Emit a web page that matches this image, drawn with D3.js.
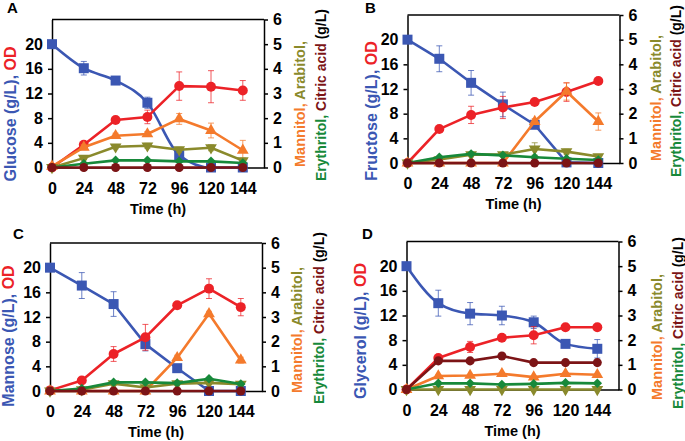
<!DOCTYPE html>
<html><head><meta charset="utf-8">
<script src="https://cdn.jsdelivr.net/npm/d3@7"></script>
<style>
body{margin:0;background:#fff}
text{font-family:"Liberation Sans",Arial,sans-serif;font-weight:bold}
</style>
</head><body>
<svg id="c" width="685" height="441"></svg>
<script>
// ---------- data ----------
const time = [0, 24, 48, 72, 96, 120, 144];
const panelLetters = ["A", "B", "C", "D"];
const substrateNames = ["Glucose", "Fructose", "Mannose", "Glycerol"];
const leftTicks = [0, 4, 8, 12, 16, 20];
const rightTicks = [0, 1, 2, 3, 4, 5, 6];
const xTicks = [0, 24, 48, 72, 96, 120, 144];

// substrate (g/L), left axis
const glucose    = [20, 16.1, 14.1, 10.5, 2.0, 0, 0];
const glucoseErr = [0, 1.1, 0.5, 0.9, 0.6, 0, 0];
const fructose    = [20, 16.9, 13.0, 9.5, 6.2, 0.1, 0];
const fructoseErr = [0, 2.1, 2.0, 2.0, 0.5, 0, 0];
const mannose    = [20, 17.1, 14.1, 7.6, 3.7, 0, 0];
const mannoseErr = [0, 2.1, 2.0, 1.1, 0.3, 0, 0];
const glycerol    = [20, 14.0, 12.3, 12.0, 10.9, 7.4, 6.6];
const glycerolErr = [0, 2.1, 1.8, 1.5, 1.0, 0.3, 1.5];

// OD, left axis
const odA = [0, 3.7, 7.7, 8.2, 13.2, 13.1, 12.5];
const odAErr = [0, 0.4, 0.3, 1.1, 2.3, 2.6, 1.6];
const odB = [0, 5.5, 7.8, 9.0, 9.9, 11.5, 13.3];
const odBErr = [0, 0.3, 1.4, 1.8, 0.3, 1.5, 0.4];
const odC = [0.1, 1.7, 6.0, 8.7, 13.9, 16.6, 13.6];
const odCErr = [0, 0.2, 1.2, 2.1, 0.3, 1.6, 1.4];
const odD = [0, 5.1, 6.9, 8.4, 8.8, 10.1, 10.1];
const odDErr = [0, 0.3, 0.9, 0.3, 1.4, 0.3, 0.3];

// mannitol (g/L), right axis
const mannitolA = [0.05, 0.82, 1.29, 1.36, 1.97, 1.5, 0.7];
const mannitolAErr = [0, 0.1, 0.1, 0.1, 0.22, 0.3, 0.4];
const mannitolB = [0, 0, 0, 0, 1.68, 2.9, 1.68];
const mannitolBErr = [0, 0, 0, 0, 0.12, 0.35, 0.35];
const mannitolC = [0, 0, 0, 0, 1.35, 3.13, 1.25];
const mannitolCErr = [0, 0, 0, 0, 0.1, 0.1, 0.12];
const mannitolD = [0, 0.55, 0.57, 0.64, 0.5, 0.64, 0.6];
const mannitolDErr = [0, 0.04, 0.04, 0.05, 0.04, 0.05, 0.04];

// arabitol (g/L), right axis
const arabitolA = [0, 0.38, 0.84, 0.88, 0.72, 0.8, 0.28];
const arabitolAErr = [0, 0.05, 0.08, 0.1, 0.1, 0.12, 0.1];
const arabitolB = [0, 0.14, 0.34, 0.34, 0.57, 0.46, 0.26];
const arabitolBErr = [0, 0, 0.05, 0.05, 0.25, 0.1, 0.05];
const arabitolC = [0, 0.05, 0.3, 0.14, 0.3, 0.33, 0.28];
const arabitolCErr = [0, 0, 0.05, 0.03, 0.05, 0.05, 0.04];
const arabitolD = [0, 0, 0, 0, 0, 0, 0];
const arabitolDErr = [0, 0, 0, 0, 0, 0, 0];

// erythritol (g/L), right axis
const erythritolA = [0, 0.15, 0.29, 0.29, 0.25, 0.25, 0.18];
const erythritolB = [0, 0.23, 0.37, 0.31, 0.23, 0.17, 0.12];
const erythritolC = [0, 0.1, 0.35, 0.35, 0.32, 0.5, 0.28];
const erythritolD = [0, 0.25, 0.25, 0.2, 0.23, 0.27, 0.25];

// citric acid (g/L), right axis
const citricA = [0, 0, 0, 0, 0, 0, 0];
const citricB = [0, 0, 0, 0, 0, 0, 0];
const citricC = [0, 0, 0, 0, 0, 0, 0];
const citricD = [0, 1.16, 1.16, 1.36, 1.09, 1.09, 1.09];
const citricDErr = [0, 0.05, 0.05, 0.06, 0.05, 0.05, 0.05];

// ---------- styling / layout ----------
const C = {
  blue: "#3b57b3", red: "#ec2227", orange: "#f47a2c", olive: "#8a8a2c",
  green: "#17893a", dred: "#7c1416"
};
const W = 212, H = 148;
const layout = [
  {left: 52,    top: 19.5,  letter: [7, 13],    yt: [15.5, 114], r1: [305, 104], r2: [326, 95]},
  {left: 407.5, top: 15,    letter: [365, 13],  yt: [377, 111],  r1: [661, 98],  r2: [681, 91]},
  {left: 50,    top: 243,   letter: [13, 239],  yt: [13.5, 336], r1: [302, 330], r2: [323.5, 318]},
  {left: 406.5, top: 241.5, letter: [362, 239], yt: [365.5, 331], r1: [662, 337], r2: [683, 323]}
];

const substrates = [glucose, fructose, mannose, glycerol];
const substrateErrs = [glucoseErr, fructoseErr, mannoseErr, glycerolErr];
const ods = [odA, odB, odC, odD];
const odErrs = [odAErr, odBErr, odCErr, odDErr];
const mannitols = [mannitolA, mannitolB, mannitolC, mannitolD];
const mannitolErrs = [mannitolAErr, mannitolBErr, mannitolCErr, mannitolDErr];
const arabitols = [arabitolA, arabitolB, arabitolC, arabitolD];
const arabitolErrs = [arabitolAErr, arabitolBErr, arabitolCErr, arabitolDErr];
const erythritols = [erythritolA, erythritolB, erythritolC, erythritolD];
const citrics = [citricA, citricB, citricC, citricD];
const citricErrs = [null, null, null, citricDErr];
const smoothSubstrate = [true, false, false, true];

const svg = d3.select("#c");

layout.forEach((L, i) => {
  const g = svg.append("g");
  const x = d3.scaleLinear().domain([0, 160]).range([L.left, L.left + W]);
  const yL = d3.scaleLinear().domain([0, 24]).range([L.top + H, L.top]);
  const yR = d3.scaleLinear().domain([0, 6]).range([L.top + H, L.top]);

  g.append("line").attr("x1", L.left).attr("x2", L.left + W)
    .attr("y1", L.top).attr("y2", L.top).attr("stroke", "#000").attr("stroke-width", 1.5);

  const axL = g.append("g").attr("transform", `translate(${L.left},0)`)
    .call(d3.axisLeft(yL).tickValues(leftTicks).tickFormat(d3.format("d")).tickSize(4).tickPadding(5).tickSizeOuter(0));
  const axR = g.append("g").attr("transform", `translate(${L.left + W},0)`)
    .call(d3.axisRight(yR).tickValues(rightTicks).tickFormat(d3.format("d")).tickSize(4).tickPadding(5).tickSizeOuter(0));
  const axB = g.append("g").attr("transform", `translate(0,${L.top + H})`)
    .call(d3.axisBottom(x).tickValues(xTicks).tickFormat(d3.format("d")).tickSize(4).tickPadding(11).tickSizeOuter(0));
  [axL, axR, axB].forEach(a => {
    a.selectAll("path,line").attr("stroke", "#000").attr("stroke-width", 1.5);
    a.selectAll("text").attr("font-size", 16).attr("font-family", "Liberation Sans, Arial, sans-serif")
      .attr("font-weight", "bold").attr("fill", "#000");
  });

  g.append("text").attr("x", L.left + W / 2).attr("y", L.top + H + 46)
    .attr("text-anchor", "middle").attr("font-size", 14.5).text("Time (h)");

  g.append("text").attr("x", L.letter[0]).attr("y", L.letter[1])
    .attr("font-size", 15).text(panelLetters[i]);

  const yt = g.append("text").attr("text-anchor", "middle").attr("font-size", 16)
    .attr("transform", `translate(${L.yt[0]},${L.yt[1]}) rotate(-90)`);
  yt.append("tspan").attr("fill", C.blue).text(substrateNames[i] + " (g/L), ");
  yt.append("tspan").attr("fill", C.red).text("OD");

  const r1 = g.append("text").attr("text-anchor", "middle").attr("font-size", 14.5)
    .attr("transform", `translate(${L.r1[0]},${L.r1[1]}) rotate(-90)`);
  r1.append("tspan").attr("fill", C.orange).text("Mannitol, ");
  r1.append("tspan").attr("fill", C.olive).text("Arabitol,");
  const r2 = g.append("text").attr("text-anchor", "middle").attr("font-size", 14)
    .attr("transform", `translate(${L.r2[0]},${L.r2[1]}) rotate(-90)`);
  r2.append("tspan").attr("fill", C.green).text("Erythritol, ");
  r2.append("tspan").attr("fill", C.dred).text("Citric acid ");
  r2.append("tspan").attr("fill", "#000").text("(g/L)");

  const series = [
    {v: substrates[i], e: substrateErrs[i], y: yL, c: C.blue, sym: d3.symbolSquare, size: 100, rot: 0, smooth: smoothSubstrate[i]},
    {v: ods[i], e: odErrs[i], y: yL, c: C.red, sym: d3.symbolCircle, size: 78, rot: 0},
    {v: mannitols[i], e: mannitolErrs[i], y: yR, c: C.orange, sym: d3.symbolTriangle, size: 60, rot: 0},
    {v: arabitols[i], e: arabitolErrs[i], y: yR, c: C.olive, sym: d3.symbolTriangle, size: 60, rot: 180},
    {v: erythritols[i], e: null, y: yR, c: C.green, sym: d3.symbolSquare, size: 45, rot: 45},
    {v: citrics[i], e: citricErrs[i], y: yR, c: C.dred, sym: d3.symbolCircle, size: 64, rot: 0}
  ];

  series.forEach(s => {
    const pts = time.map((t, k) => ({t, v: s.v[k], e: s.e ? s.e[k] : 0}));
    const line = d3.line().x(d => x(d.t)).y(d => s.y(d.v))
      .curve(s.smooth ? d3.curveMonotoneX : d3.curveLinear);
    g.append("path").datum(pts).attr("d", line).attr("fill", "none")
      .attr("stroke", s.c).attr("stroke-width", 2.6).attr("stroke-linejoin", "round");
    const eb = g.append("g").attr("stroke", s.c).attr("stroke-opacity", 0.75).attr("stroke-width", 1);
    pts.filter(d => d.e > 0).forEach(d => {
      const cx = x(d.t), y1 = s.y(d.v - d.e), y2 = s.y(d.v + d.e);
      eb.append("line").attr("x1", cx).attr("x2", cx).attr("y1", y1).attr("y2", y2);
      eb.append("line").attr("x1", cx - 3).attr("x2", cx + 3).attr("y1", y1).attr("y2", y1);
      eb.append("line").attr("x1", cx - 3).attr("x2", cx + 3).attr("y1", y2).attr("y2", y2);
    });
    g.append("g").selectAll("path").data(pts).join("path")
      .attr("d", d3.symbol().type(s.sym).size(s.size))
      .attr("transform", d => `translate(${x(d.t)},${s.y(d.v)}) rotate(${s.rot})`)
      .attr("fill", s.c);
  });
});
</script>
</body></html>
